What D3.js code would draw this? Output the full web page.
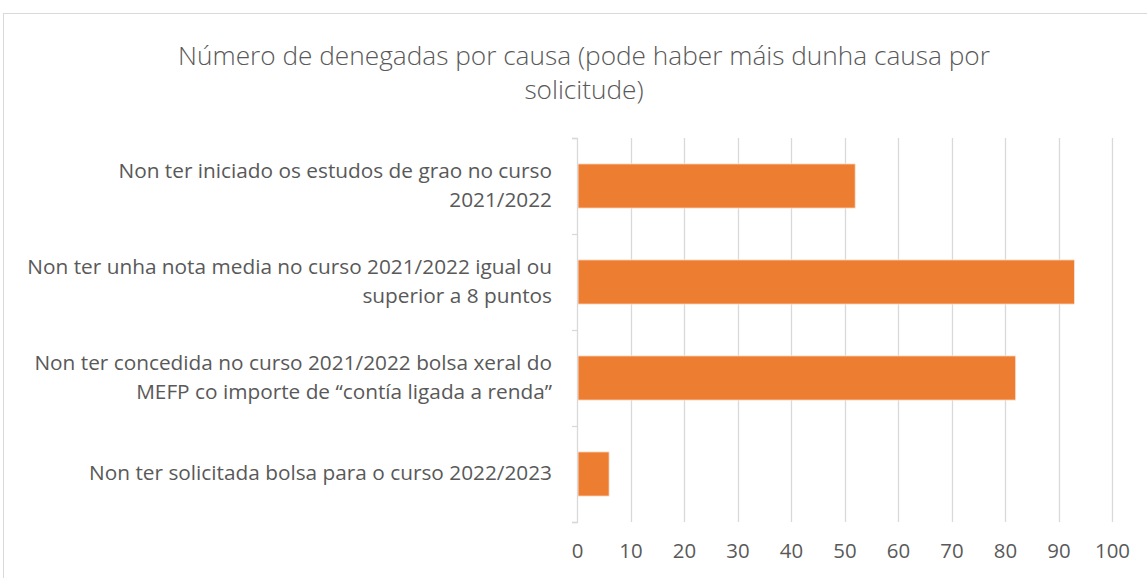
<!DOCTYPE html>
<html>
<head>
<meta charset="utf-8">
<script src="https://cdn.jsdelivr.net/npm/d3@7"></script>
<style>
  html, body { margin: 0; padding: 0; background: #fff; }
  svg { display: block; }
  text { font-family: "Open Sans", Lato, sans-serif; fill: #595959; }
</style>
</head>
<body>
<svg id="chart" width="1147" height="578"></svg>
<script>
// ---- data ----
const titleLines = ["Número de denegadas por causa (pode haber máis dunha causa por", "solicitude)"];
const categories = [
  "Non ter iniciado os estudos de grao no curso 2021/2022",
  "Non ter unha nota media no curso 2021/2022 igual ou superior a 8 puntos",
  "Non ter concedida no curso 2021/2022 bolsa xeral do MEFP co importe de “contía ligada a renda”",
  "Non ter solicitada bolsa para o curso 2022/2023"
];
const categoryLines = [
  ["Non ter iniciado os estudos de grao no curso", "2021/2022"],
  ["Non ter unha nota media no curso 2021/2022 igual ou", "superior a 8 puntos"],
  ["Non ter concedida no curso 2021/2022 bolsa xeral do", "MEFP co importe de “contía ligada a renda”"],
  ["Non ter solicitada bolsa para o curso 2022/2023"]
];
const values = [52, 93, 82, 6];
const xTicks = [0, 10, 20, 30, 40, 50, 60, 70, 80, 90, 100];

// ---- layout ----
const W = 1147, H = 578;
const plot = { left: 577, right: 1112, top: 138, bottom: 522 };
const svg = d3.select("#chart");

// helper: size a font so a reference string gets a target width
function fitSize(str, targetWidth, weight) {
  const t = svg.append("text").style("font-size", "20px").style("font-weight", weight || 400).text(str);
  const w = t.node().getComputedTextLength();
  t.remove();
  return 20 * targetWidth / w;
}

// chart border
svg.append("rect")
  .attr("x", 3.5).attr("y", 13.5)
  .attr("width", W + 10).attr("height", H + 10)
  .attr("fill", "#fff").attr("stroke", "#d9d9d9").attr("stroke-width", 1);

// title
const titleSize = fitSize(titleLines[0], 812, 300);
const title = svg.append("text")
  .attr("text-anchor", "middle")
  .style("font-size", titleSize + "px")
  .style("font-weight", 300);
title.selectAll("tspan").data(titleLines).join("tspan")
  .attr("x", 584)
  .attr("y", (d, i) => 65 + i * 34)
  .text(d => d);

const x = d3.scaleLinear().domain([0, 100]).range([plot.left, plot.right]);
const y = d3.scaleBand().domain(categories).range([plot.top, plot.bottom])
  .paddingInner(0.54).paddingOuter(0.27);

// gridlines
svg.append("g")
  .selectAll("line").data(xTicks.filter(t => t > 0)).join("line")
  .attr("x1", d => Math.round(x(d)) + 0.5).attr("x2", d => Math.round(x(d)) + 0.5)
  .attr("y1", plot.top).attr("y2", plot.bottom)
  .attr("stroke", "#d9d9d9").attr("stroke-width", 1.3);

// bars
svg.append("g")
  .selectAll("rect").data(categories).join("rect")
  .attr("x", x(0) + 1)
  .attr("y", d => y(d))
  .attr("width", (d, i) => x(values[i]) - x(0) - 1)
  .attr("height", y.bandwidth())
  .attr("fill", "#ED7D31")
  .attr("stroke", "#fbe5d6").attr("stroke-width", 0.8);

// y axis (category axis)
const yAxisScale = d3.scaleLinear().domain([0, 4]).range([plot.top, plot.bottom]);
const yAxis = svg.append("g")
  .attr("transform", `translate(${plot.left},0)`)
  .call(d3.axisLeft(yAxisScale).tickValues([0, 1, 2, 3, 4]).tickSize(5).tickFormat(""));
yAxis.selectAll("path, line").attr("stroke", "#d9d9d9").attr("stroke-width", 1.3);

// label size from the widest line
const labelSize = fitSize(categoryLines[1][0], 525, 400);
const tickSize = fitSize("100", 35, 400);

// x axis labels
const xAxis = svg.append("g")
  .attr("transform", `translate(0,${plot.bottom})`)
  .call(d3.axisBottom(x).tickValues(xTicks).tickSize(0).tickPadding(22));
xAxis.select(".domain").remove();
xAxis.selectAll("text")
  .style("font-size", tickSize + "px")
  .style("font-family", "'Open Sans', Lato, sans-serif")
  .attr("fill", "#595959");

// category labels
const labels = svg.append("g");
categories.forEach((c, i) => {
  const lines = categoryLines[i];
  const cy = y(c) + y.bandwidth() / 2;
  const lh = 29;
  const t = labels.append("text").attr("text-anchor", "end").style("font-size", labelSize + "px");
  lines.forEach((ln, j) => {
    t.append("tspan")
      .attr("x", 552)
      .attr("y", cy + (j - (lines.length - 1) / 2) * lh + 6)
      .text(ln);
  });
});
</script>
</body>
</html>
